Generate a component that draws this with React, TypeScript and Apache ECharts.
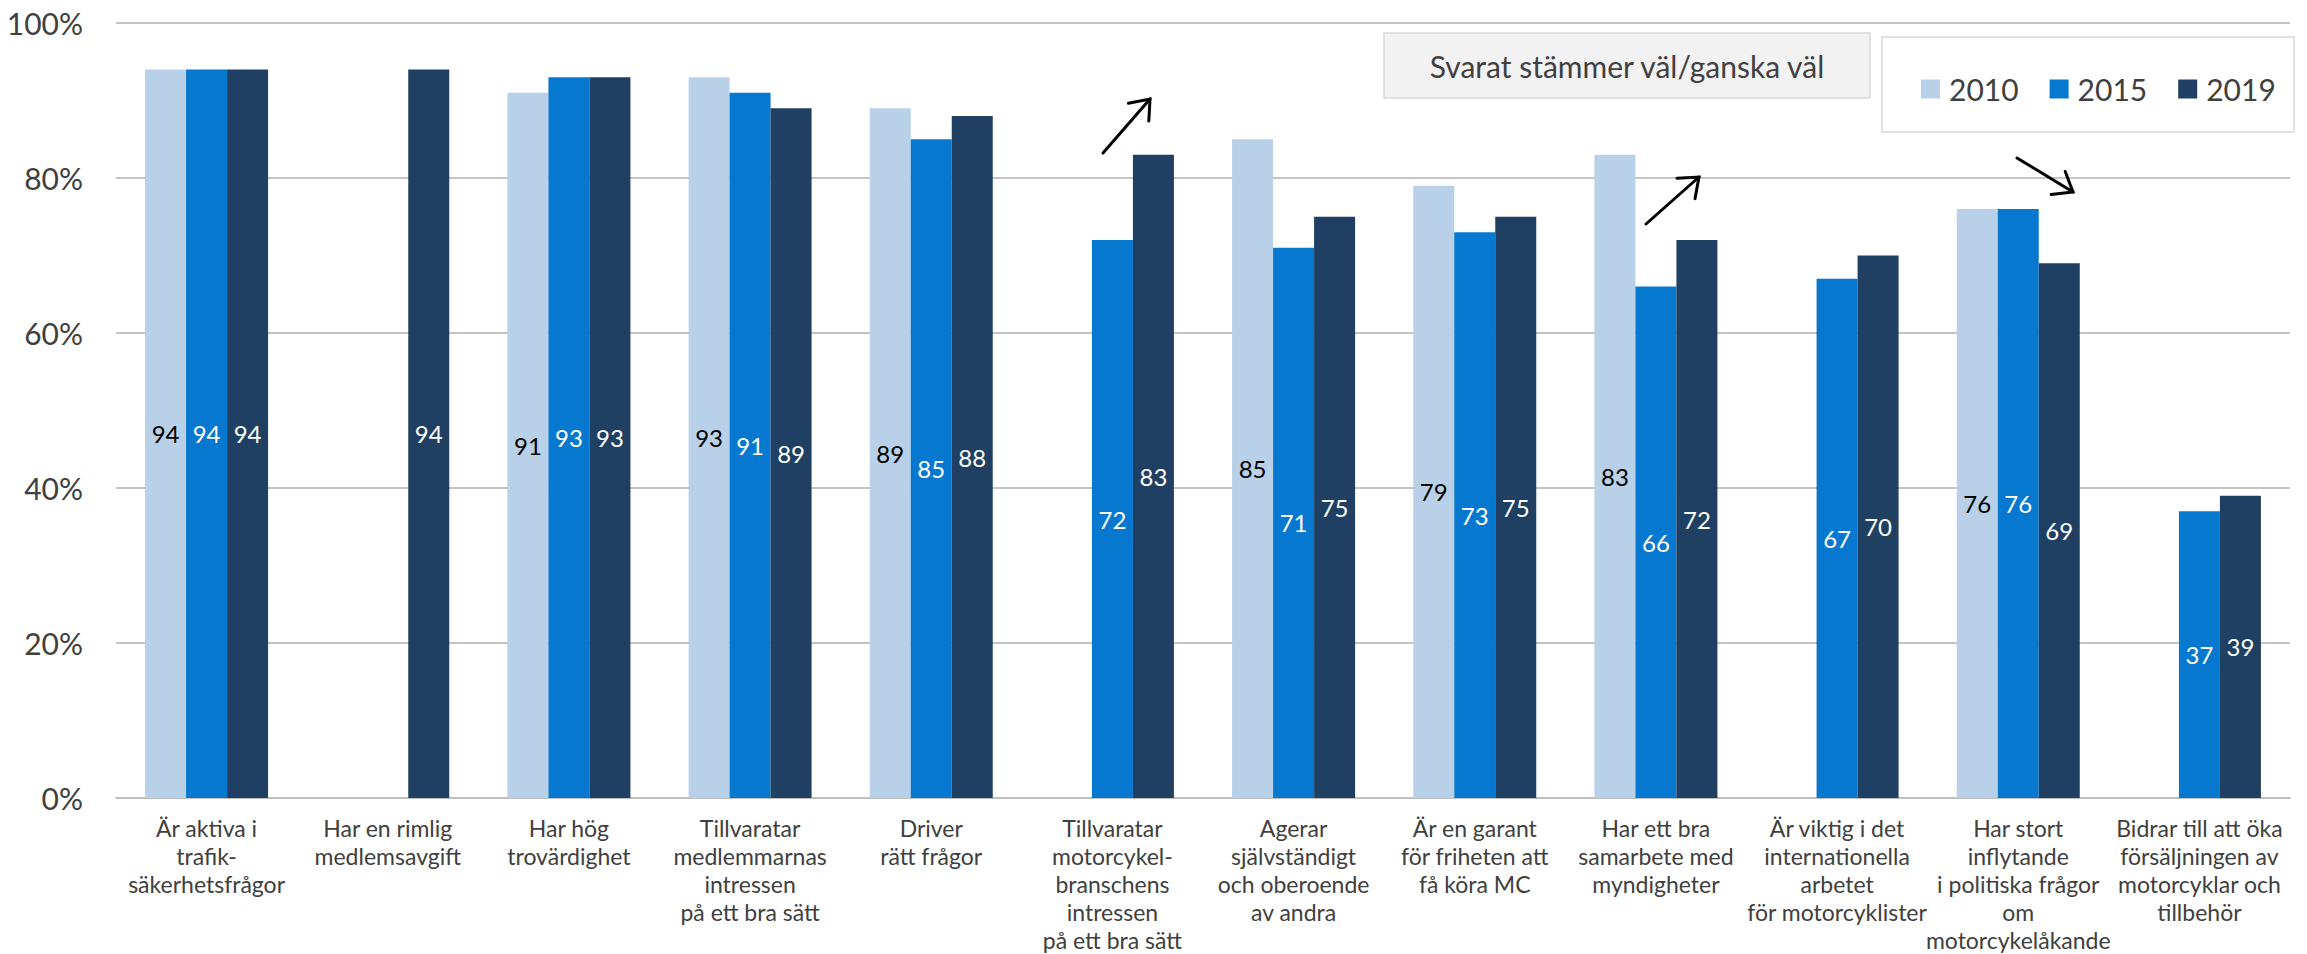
import React, { useEffect, useRef } from "react";
import * as echarts from "echarts";

// Statements about the organisation, one per category
const categories = [
  "Är aktiva i\ntrafik-\nsäkerhetsfrågor",
  "Har en rimlig\nmedlemsavgift",
  "Har hög\ntrovärdighet",
  "Tillvaratar\nmedlemmarnas\nintressen\npå ett bra sätt",
  "Driver\nrätt frågor",
  "Tillvaratar\nmotorcykel-\nbranschens\nintressen\npå ett bra sätt",
  "Agerar\nsjälvständigt\noch oberoende\nav andra",
  "Är en garant\nför friheten att\nfå köra MC",
  "Har ett bra\nsamarbete med\nmyndigheter",
  "Är viktig i det\ninternationella\narbetet\nför motorcyklister",
  "Har stort\ninflytande\ni politiska frågor\nom\nmotorcykelåkande",
  "Bidrar till att öka\nförsäljningen av\nmotorcyklar och\ntillbehör",
];

// Share answering "stämmer väl/ganska väl" (%), null where the question was not asked
const values2010 = [94, null, 91, 93, 89, null, 85, 79, 83, null, 76, null];
const values2015 = [94, null, 93, 91, 85, 72, 71, 73, 66, 67, 76, 37];
const values2019 = [94, 94, 93, 89, 88, 83, 75, 75, 72, 70, 69, 39];

const years = ["2010", "2015", "2019"];
const yTicks = [0, 20, 40, 60, 80, 100];

const FONT = "Lato";
const TEXT = "#404040";

// Trend arrow: straight shaft with an open arrowhead at the tip
function arrow(x1: number, y1: number, x2: number, y2: number) {
  const len = 22;
  const ang = (38 * Math.PI) / 180;
  const dx = x2 - x1;
  const dy = y2 - y1;
  const d = Math.hypot(dx, dy);
  const ux = -dx / d;
  const uy = -dy / d;
  const rot = (a: number): [number, number] => [
    x2 + len * (ux * Math.cos(a) - uy * Math.sin(a)),
    y2 + len * (ux * Math.sin(a) + uy * Math.cos(a)),
  ];
  const style = { stroke: "#000", lineWidth: 3, fill: "none", lineCap: "round", lineJoin: "miter" };
  return [
    { type: "line", shape: { x1, y1, x2, y2 }, style, z: 10 },
    { type: "polyline", shape: { points: [rot(ang), [x2, y2], rot(-ang)] }, style, z: 10 },
  ];
}

export default function App() {
  const ref = useRef<HTMLDivElement>(null);

  useEffect(() => {
    document.body.style.margin = "0";
    if (!ref.current) return;
    const chart = echarts.init(ref.current, null, { renderer: "svg" });

    const labelBase = {
      show: true,
      position: "inside",
      fontFamily: FONT,
      fontSize: 24,
      formatter: "{c}",
    };

    const seriesData = [values2010, values2015, values2019];
    const colors = ["#B8D0E8", "#0778CF", "#1F4063"];
    const labelColors = ["#000000", "#ffffff", "#ffffff"];

    chart.setOption({
      animation: false,
      textStyle: { fontFamily: FONT },
      grid: { left: 116, right: 17, top: 23, bottom: 156, containLabel: false },
      legend: {
        data: years,
        left: 1916,
        top: 69,
        itemWidth: 19,
        itemHeight: 19,
        itemGap: 31,
        icon: "rect",
        textStyle: {
          fontFamily: FONT,
          fontSize: 30,
          color: TEXT,
          lineHeight: 30,
          padding: [0, 0, 0, 4],
        },
        z: 20,
      },
      xAxis: {
        type: "category",
        data: categories,
        axisTick: { show: false },
        axisLine: { lineStyle: { color: "#BFBFBF", width: 2 } },
        axisLabel: {
          interval: 0,
          fontFamily: FONT,
          fontSize: 23,
          lineHeight: 28,
          color: TEXT,
          margin: 16,
        },
      },
      yAxis: {
        type: "value",
        min: yTicks[0],
        max: yTicks[yTicks.length - 1],
        interval: 20,
        axisLine: { show: false },
        axisTick: { show: false },
        splitLine: { lineStyle: { color: "#C4C4C4", width: 2 } },
        axisLabel: {
          formatter: "{value}%",
          fontFamily: FONT,
          fontSize: 30,
          color: TEXT,
          margin: 33,
        },
      },
      series: years.map((y, i) => ({
        name: y,
        type: "bar",
        data: seriesData[i],
        barWidth: 41,
        barGap: "0%",
        itemStyle: { color: colors[i] },
        label: { ...labelBase, color: labelColors[i] },
      })),
      graphic: [
        // Subtitle box
        {
          type: "rect",
          shape: { x: 1384, y: 33, width: 486, height: 65 },
          style: { fill: "#F2F2F2", stroke: "#D9D9D9", lineWidth: 1.5 },
          z: 5,
        },
        {
          type: "text",
          x: 1627,
          y: 65.5,
          style: {
            text: "Svarat stämmer väl/ganska väl",
            fontFamily: FONT,
            fontSize: 30,
            fill: TEXT,
            align: "center",
            verticalAlign: "middle",
          },
          z: 6,
        },
        // Legend frame
        {
          type: "rect",
          shape: { x: 1882, y: 37, width: 412, height: 95 },
          style: { fill: "#FFFFFF", stroke: "#D9D9D9", lineWidth: 1.5 },
          z: 5,
        },
        ...arrow(1103, 153, 1150, 99),
        ...arrow(1646, 224, 1699, 177),
        ...arrow(2017, 158, 2073, 192),
      ],
    });

    return () => chart.dispose();
  }, []);

  return <div ref={ref} style={{ width: 2307, height: 954 }} />;
}
